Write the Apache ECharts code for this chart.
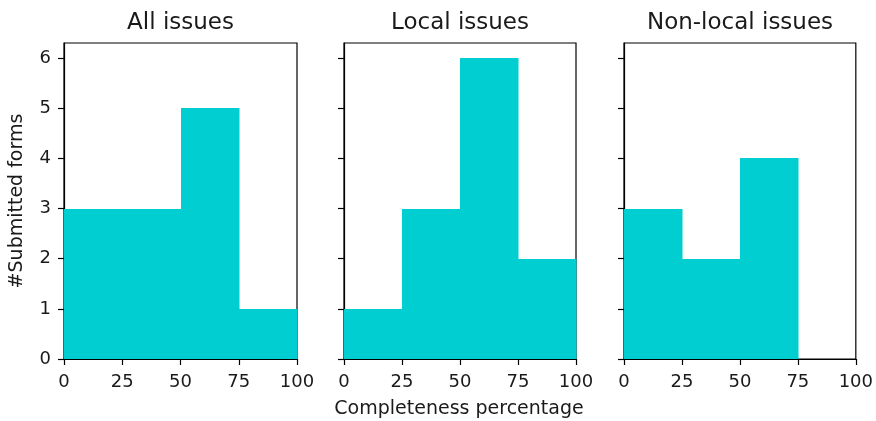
<!DOCTYPE html>
<html>
<head>
<meta charset="utf-8">
<script src="https://cdn.jsdelivr.net/npm/echarts@6/dist/echarts.min.js"></script>
<style>
  html, body { margin: 0; padding: 0; background: #fff; }
  #chart { width: 876px; height: 421px; }
</style>
</head>
<body>
<div id="chart"></div>
<script>
// Histogram bin edges (completeness percentage)
const binEdges = [0, 25, 50, 75, 100];
// Counts of submitted forms per bin
const allIssues = [3, 3, 5, 1];
const localIssues = [1, 3, 6, 2];
const nonLocalIssues = [3, 2, 4, 0];
const panelTitles = ['All issues', 'Local issues', 'Non-local issues'];
const xTicks = [0, 25, 50, 75, 100];
const yTicks = [0, 1, 2, 3, 4, 5, 6];

const FONT = 'DejaVu Sans';
const BAR_COLOR = '#00CED1';
const TEXT_COLOR = '#1a1a1a';
const panels = [allIssues, localIssues, nonLocalIssues];
const lefts = [64, 344, 624];
const widths = [233, 232, 232];

const chart = echarts.init(document.getElementById('chart'), null, { renderer: 'canvas' });

const grids = [], xAxes = [], yAxes = [], series = [], graphics = [];
panels.forEach((counts, i) => {
  grids.push({
    left: lefts[i], top: 43, width: widths[i], height: 316,
    show: true, borderColor: '#000', borderWidth: 1.2, backgroundColor: 'transparent'
  });
  xAxes.push({
    type: 'value', gridIndex: i, min: 0, max: 100, interval: 25,
    splitLine: { show: false },
    axisLine: { show: true, lineStyle: { color: '#000', width: 1.2 } },
    axisTick: { show: true, length: 6, lineStyle: { color: '#000', width: 1.2 }, customValues: xTicks },
    axisLabel: { show: true, color: TEXT_COLOR, fontSize: 18, fontFamily: FONT, margin: 14, customValues: xTicks }
  });
  yAxes.push({
    type: 'value', gridIndex: i, min: 0, max: 6.3,
    splitLine: { show: false },
    axisLine: { show: true, lineStyle: { color: '#000', width: 1.2 } },
    axisTick: { show: true, length: 6, lineStyle: { color: '#000', width: 1.2 }, customValues: yTicks },
    axisLabel: { show: i === 0, color: TEXT_COLOR, fontSize: 18, fontFamily: FONT, margin: 13, customValues: yTicks }
  });
  // each bin becomes [start, end, count]; empty bins draw nothing
  const data = counts.map((c, k) => [binEdges[k], binEdges[k + 1], c]);
  series.push({
    type: 'custom', xAxisIndex: i, yAxisIndex: i,
    encode: { x: [0, 1], y: 2 },
    data: data,
    renderItem: function (params, api) {
      if (!api.value(2)) return null;
      const p0 = api.coord([api.value(0), 0]);
      const p1 = api.coord([api.value(1), api.value(2)]);
      const x0 = Math.round(p0[0]), x1 = Math.round(p1[0]);
      const y0 = Math.round(p0[1]), y1 = Math.round(p1[1]);
      return {
        type: 'rect',
        shape: { x: x0, y: y1, width: x1 - x0 + 0.5, height: y0 - y1 },
        style: { fill: BAR_COLOR }
      };
    },
    z: 1
  });
  // panel title centred over its grid
  graphics.push({
    type: 'text', x: lefts[i] + widths[i] / 2, y: 23,
    style: { text: panelTitles[i], font: '23px "DejaVu Sans"', fill: TEXT_COLOR, textAlign: 'center', textVerticalAlign: 'middle' }
  });
});

graphics.push(
  {
    type: 'text', x: 17, y: 201, rotation: Math.PI / 2,
    style: { text: '#Submitted forms', font: '19px "DejaVu Sans"', fill: TEXT_COLOR, textAlign: 'center', textVerticalAlign: 'middle' }
  },
  {
    type: 'text', x: 459, y: 409,
    style: { text: 'Completeness percentage', font: '19px "DejaVu Sans"', fill: TEXT_COLOR, textAlign: 'center', textVerticalAlign: 'middle' }
  }
);

chart.setOption({
  backgroundColor: '#fff',
  animation: false,
  grid: grids,
  xAxis: xAxes,
  yAxis: yAxes,
  series: series,
  graphic: graphics
});
</script>
</body>
</html>
